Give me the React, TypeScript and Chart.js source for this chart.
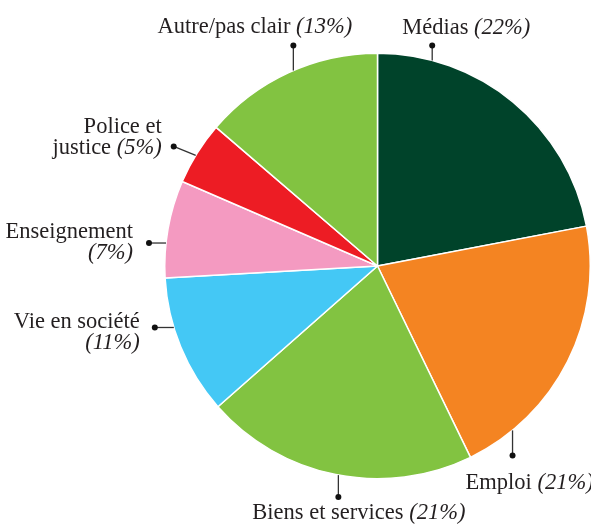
import React, { useEffect, useRef } from "react";
import { Chart, registerables } from "chart.js";

Chart.register(...registerables);

const categories = ["Médias", "Emploi", "Biens et services", "Vie en société", "Enseignement", "Police et justice", "Autre/pas clair"];
// slice sizes as drawn
const values = [22.0, 20.8, 20.7, 10.6, 7.4, 4.8, 13.7];
// percentages as printed
const percentLabels = [22, 21, 21, 11, 7, 5, 13];
const colors = ["#00432a", "#f48422", "#82c341", "#44c8f5", "#f49ac1", "#ed1c24", "#82c341"];
// label text lines (percentage appended to last line)
const labelLines = [["Médias"], ["Emploi"], ["Biens et services"], ["Vie en société", ""], ["Enseignement", ""], ["Police et", "justice"], ["Autre/pas clair"]];

// layout of annotations: anchor angle on rim (deg clockwise from top), dot offset, text offset & align
const labelLayout = [
  { ang: 14.9, dx: 0, dy: -15, tx: -30, ty: -11, align: "left" },
  { ang: 140.6, dx: 0, dy: 25, tx: -47, ty: 34, align: "left" },
  { ang: 190.6, dx: 0, dy: 22, tx: -86, ty: 22, align: "left" },
  { ang: 253.2, dx: -19, dy: 0, tx: -15, ty: 1, align: "right" },
  { ang: 276.2, dx: -17, dy: 0, tx: -16, ty: -5, align: "right" },
  { ang: 301.3, dx: -22, dy: -9, tx: -12, ty: -13, align: "right" },
  { ang: 336.7, dx: 0, dy: -25, tx: 59, ty: -13, align: "right" },
];

const FONT_SIZE = 22.5;
const FAMILY = "'Liberation Serif', 'Times New Roman', serif";
const LINE_H = 21;

type Seg = { text: string; italic: boolean };

function drawSegs(ctx: CanvasRenderingContext2D, segs: Seg[], x: number, y: number, align: string) {
  const widths = segs.map((s) => {
    ctx.font = `${s.italic ? "italic " : ""}${FONT_SIZE}px ${FAMILY}`;
    return ctx.measureText(s.text).width;
  });
  const total = widths.reduce((a, b) => a + b, 0);
  let cx = align === "right" ? x - total : x;
  segs.forEach((s, i) => {
    ctx.font = `${s.italic ? "italic " : ""}${FONT_SIZE}px ${FAMILY}`;
    ctx.fillText(s.text, cx, y);
    cx += widths[i];
  });
}

const labelPlugin = {
  id: "pieLabels",
  afterDatasetsDraw(chart: any) {
    const meta = chart.getDatasetMeta(0);
    const ctx: CanvasRenderingContext2D = chart.ctx;
    ctx.save();
    meta.data.forEach((arc: any, i: number) => {
      const L = labelLayout[i];
      const a = ((L.ang - 90) * Math.PI) / 180;
      const r = arc.outerRadius;
      const px = arc.x + Math.cos(a) * r;
      const py = arc.y + Math.sin(a) * r;
      const dx = px + L.dx;
      const dy = py + L.dy;
      ctx.strokeStyle = "#333";
      ctx.lineWidth = 1.3;
      ctx.beginPath();
      ctx.moveTo(px, py);
      ctx.lineTo(dx, dy);
      ctx.stroke();
      ctx.fillStyle = "#111";
      ctx.beginPath();
      ctx.arc(dx, dy, 3, 0, Math.PI * 2);
      ctx.fill();
      ctx.fillStyle = "#231f20";
      ctx.textBaseline = "alphabetic";
      ctx.textAlign = "left";
      const lines = labelLines[i];
      const pct = `(${percentLabels[i]}%)`;
      lines.forEach((ln, j) => {
        const segs: Seg[] = [];
        if (j === lines.length - 1) {
          if (ln) segs.push({ text: ln + " ", italic: false });
          segs.push({ text: pct, italic: true });
        } else {
          segs.push({ text: ln, italic: false });
        }
        drawSegs(ctx, segs, dx + L.tx, dy + L.ty + j * LINE_H, L.align);
      });
    });
    ctx.restore();
  },
};

export default function App() {
  const ref = useRef<HTMLCanvasElement>(null);
  useEffect(() => {
    if (!ref.current) return;
    const chart = new Chart(ref.current, {
      type: "pie",
      data: {
        labels: categories,
        datasets: [
          {
            data: values,
            backgroundColor: colors,
            borderColor: "#ffffff",
            borderWidth: 1.5,
          },
        ],
      },
      options: {
        responsive: false,
        animation: false,
        devicePixelRatio: 1,
        layout: { padding: { left: 164, right: 0, top: 52, bottom: 45 } },
        plugins: { legend: { display: false }, tooltip: { enabled: false } },
      },
      plugins: [labelPlugin],
    });
    return () => chart.destroy();
  }, []);
  return (
    <div style={{ position: "absolute", left: 0, top: 0, width: 591, height: 525, background: "#fff" }}>
      <canvas ref={ref} width={591} height={525} />
    </div>
  );
}
